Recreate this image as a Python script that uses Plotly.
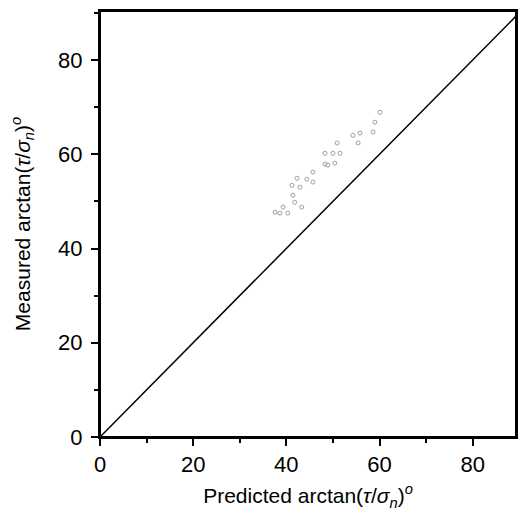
import plotly.graph_objects as go

# Measured vs predicted arctan(tau/sigma_n) in degrees
predicted = [60.1, 59.0, 58.6, 55.8, 54.3, 55.4, 50.9, 51.5, 50.0, 48.3, 50.4, 48.3, 48.9,
             45.7, 42.3, 44.4, 45.7, 41.2, 42.9, 41.4, 41.8, 39.3, 43.3, 38.6, 37.6, 40.3]
measured = [68.9, 66.8, 64.7, 64.5, 64.0, 62.4, 62.4, 60.2, 60.2, 60.2, 58.1, 57.9, 57.7,
            56.2, 54.9, 54.7, 54.1, 53.4, 53.0, 51.3, 49.8, 48.8, 48.8, 47.5, 47.7, 47.5]
line_x = [0, 90]
line_y = [0, 90]
tick_vals = [0, 20, 40, 60, 80]

fig = go.Figure()
fig.add_trace(go.Scatter(x=line_x, y=line_y, mode="lines",
                         line=dict(color="black", width=1.5), showlegend=False))
fig.add_trace(go.Scatter(x=predicted, y=measured, mode="markers",
                         marker=dict(symbol="circle-open", size=4, color="#777777",
                                     line=dict(width=1)),
                         opacity=0.7, showlegend=False))

axis_common = dict(
    showgrid=False, zeroline=False, showline=True, linecolor="black", linewidth=2,
    mirror=True, ticks="outside", ticklen=7, tickwidth=2, tickcolor="black",
    tickvals=tick_vals, tickfont=dict(family="Liberation Sans, Arial", size=22, color="black"),
    minor=dict(ticks="outside", ticklen=4, tickwidth=1.5, dtick=10, tickcolor="black"),
)

fig.update_layout(
    width=519, height=518,
    margin=dict(l=100, r=3, t=11, b=81, autoexpand=False),
    paper_bgcolor="white", plot_bgcolor="white",
    font=dict(family="Liberation Sans, Arial", color="black"),
    xaxis=dict(range=[0, 89.3], automargin=False,
               title=dict(text="Predicted arctan(<i>τ</i>/<i>σ<sub>n</sub></i>)<sup><i>o</i></sup>",
                          font=dict(size=21), standoff=12),
               **axis_common),
    yaxis=dict(range=[0, 90.4], automargin=False, ticklabelstandoff=4,
               title=dict(text="Measured arctan(<i>τ</i>/<i>σ<sub>n</sub></i>)<sup><i>o</i></sup>",
                          font=dict(size=21), standoff=22),
               **axis_common),
    shapes=[dict(type="rect", xref="paper", yref="paper", x0=0, y0=0, x1=1, y1=1,
                 line=dict(color="black", width=2), layer="above")],
)

fig.write_html("out.html", config={"displayModeBar": False})
with open("out.html", encoding="utf-8") as f:
    html = f.read()
html = html.replace("<head>", "<head><style>html,body{margin:0;padding:0;overflow:hidden}</style>", 1)
with open("out.html", "w", encoding="utf-8") as f:
    f.write(html)
